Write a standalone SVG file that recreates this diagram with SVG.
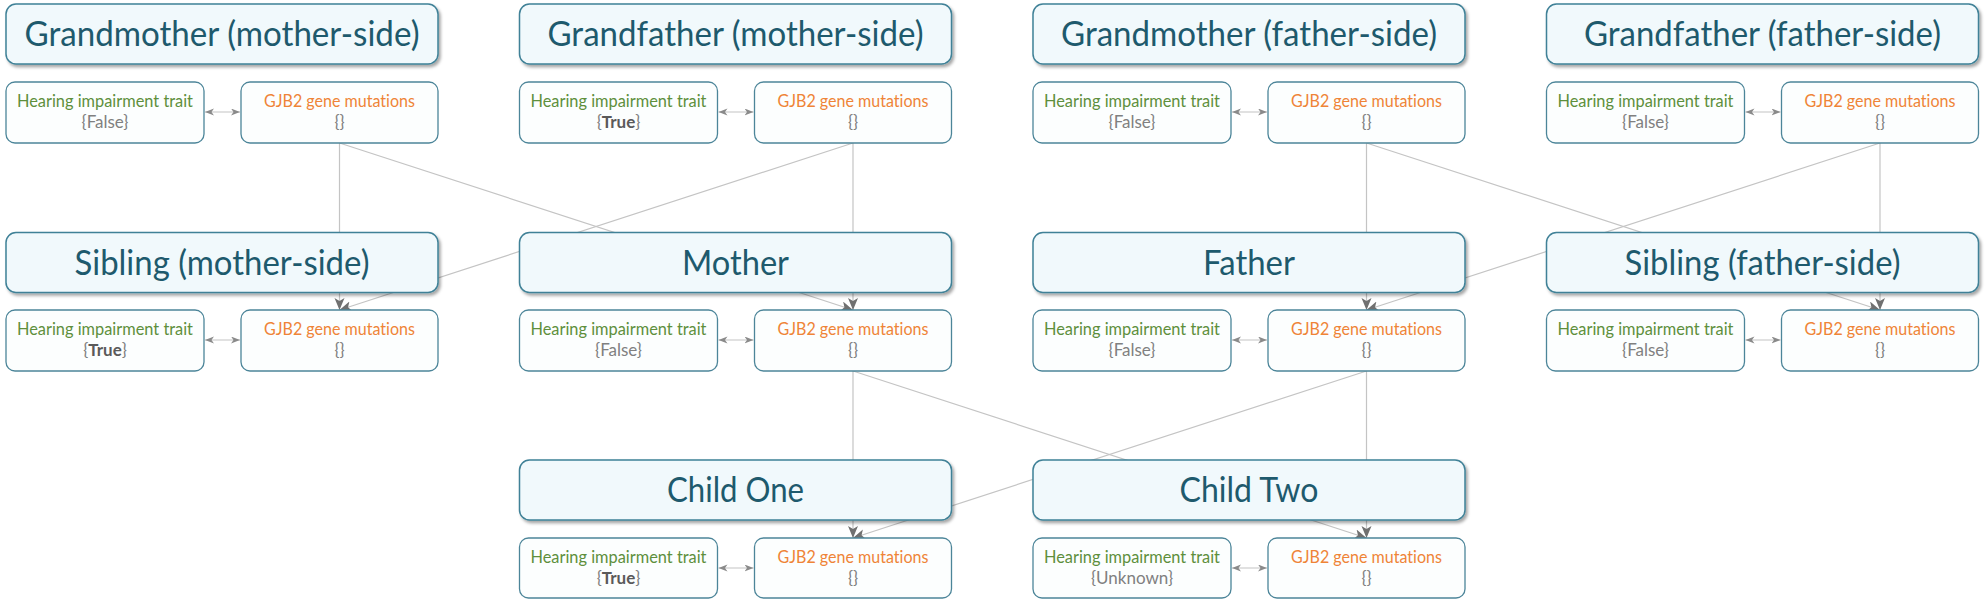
<svg xmlns="http://www.w3.org/2000/svg" width="1986" height="600" viewBox="0 0 1986 600">
<defs>
<filter id="sh" x="-5%" y="-20%" width="110%" height="150%">
<feDropShadow dx="2" dy="2.5" stdDeviation="1.5" flood-color="#000" flood-opacity="0.35"/>
</filter>
<marker id="ah" markerUnits="userSpaceOnUse" markerWidth="14" markerHeight="12" refX="12" refY="5" orient="auto">
<path d="M0,0 L12,5 L0,10 L3,5 z" fill="#707070"/>
</marker>
<marker id="sa" markerUnits="userSpaceOnUse" markerWidth="10" markerHeight="8" refX="9" refY="3.5" orient="auto-start-reverse">
<path d="M0,0 L9,3.5 L0,7 L2.5,3.5 z" fill="#8a8a8a"/>
</marker>
</defs>
<style>
text{font-variant-ligatures:none}
.big{fill:#f1f9fc;stroke:#3f8197;stroke-width:1.5;filter:url(#sh)}
.sm{fill:#fcfefe;stroke:#4c8599;stroke-width:1.3}
.title{font-family:Lato,"Liberation Sans",sans-serif;font-size:34px;fill:#1e5a6d;text-anchor:middle}
.lbl{font-family:Lato,"Liberation Sans",sans-serif;font-size:17px;text-anchor:middle}
.tr{fill:#5e8f3c}
.gj{fill:#ef8437}
.val{fill:#808080}
.b{font-weight:bold;fill:#5a5a5a}
.con{stroke:#c4c4c4;stroke-width:1.2;fill:none;marker-end:url(#ah)}
.dbl{stroke:#c4c4c4;stroke-width:1.2;fill:none;marker-start:url(#sa);marker-end:url(#sa)}
</style>

<g id="connectors">
<line class="con" x1="339.5" y1="143" x2="339.5" y2="310"/>
<line class="con" x1="339.5" y1="143" x2="853" y2="310"/>
<line class="con" x1="853" y1="143" x2="853" y2="310"/>
<line class="con" x1="853" y1="143" x2="339.5" y2="310"/>
<line class="con" x1="1366.5" y1="143" x2="1366.5" y2="310"/>
<line class="con" x1="1366.5" y1="143" x2="1880" y2="310"/>
<line class="con" x1="1880" y1="143" x2="1880" y2="310"/>
<line class="con" x1="1880" y1="143" x2="1366.5" y2="310"/>
<line class="con" x1="853" y1="371" x2="853" y2="538"/>
<line class="con" x1="853" y1="371" x2="1366.5" y2="538"/>
<line class="con" x1="1366.5" y1="371" x2="1366.5" y2="538"/>
<line class="con" x1="1366.5" y1="371" x2="853" y2="538"/>
<line class="dbl" x1="205" y1="112" x2="240" y2="112"/>
<line class="dbl" x1="718.5" y1="112" x2="753.5" y2="112"/>
<line class="dbl" x1="1232" y1="112" x2="1267" y2="112"/>
<line class="dbl" x1="1745.5" y1="112" x2="1780.5" y2="112"/>
<line class="dbl" x1="205" y1="340" x2="240" y2="340"/>
<line class="dbl" x1="718.5" y1="340" x2="753.5" y2="340"/>
<line class="dbl" x1="1232" y1="340" x2="1267" y2="340"/>
<line class="dbl" x1="1745.5" y1="340" x2="1780.5" y2="340"/>
<line class="dbl" x1="718.5" y1="568" x2="753.5" y2="568"/>
<line class="dbl" x1="1232" y1="568" x2="1267" y2="568"/>
</g>

<g id="grandmother-mother-side">
<rect class="big" x="6" y="4" width="432" height="60" rx="10"/>
<text class="title" x="222" y="46" textLength="395" lengthAdjust="spacingAndGlyphs">Grandmother (mother-side)</text>
<rect class="sm" x="6" y="82" width="198" height="61" rx="9"/>
<text class="lbl tr" x="105" y="107" textLength="176" lengthAdjust="spacingAndGlyphs">Hearing impairment trait</text>
<text class="lbl val" x="105" y="128">{False}</text>
<rect class="sm" x="241" y="82" width="197" height="61" rx="9"/>
<text class="lbl gj" x="339.5" y="107" textLength="151" lengthAdjust="spacingAndGlyphs">GJB2 gene mutations</text>
<text class="lbl val" x="339.5" y="128">{}</text>
</g>

<g id="grandfather-mother-side">
<rect class="big" x="519.5" y="4" width="432" height="60" rx="10"/>
<text class="title" x="735.5" y="46" textLength="376" lengthAdjust="spacingAndGlyphs">Grandfather (mother-side)</text>
<rect class="sm" x="519.5" y="82" width="198" height="61" rx="9"/>
<text class="lbl tr" x="618.5" y="107" textLength="176" lengthAdjust="spacingAndGlyphs">Hearing impairment trait</text>
<text class="lbl val" x="618.5" y="128">{<tspan class="b">True</tspan>}</text>
<rect class="sm" x="754.5" y="82" width="197" height="61" rx="9"/>
<text class="lbl gj" x="853" y="107" textLength="151" lengthAdjust="spacingAndGlyphs">GJB2 gene mutations</text>
<text class="lbl val" x="853" y="128">{}</text>
</g>

<g id="grandmother-father-side">
<rect class="big" x="1033" y="4" width="432" height="60" rx="10"/>
<text class="title" x="1249" y="46" textLength="376" lengthAdjust="spacingAndGlyphs">Grandmother (father-side)</text>
<rect class="sm" x="1033" y="82" width="198" height="61" rx="9"/>
<text class="lbl tr" x="1132" y="107" textLength="176" lengthAdjust="spacingAndGlyphs">Hearing impairment trait</text>
<text class="lbl val" x="1132" y="128">{False}</text>
<rect class="sm" x="1268" y="82" width="197" height="61" rx="9"/>
<text class="lbl gj" x="1366.5" y="107" textLength="151" lengthAdjust="spacingAndGlyphs">GJB2 gene mutations</text>
<text class="lbl val" x="1366.5" y="128">{}</text>
</g>

<g id="grandfather-father-side">
<rect class="big" x="1546.5" y="4" width="432" height="60" rx="10"/>
<text class="title" x="1762.5" y="46" textLength="357" lengthAdjust="spacingAndGlyphs">Grandfather (father-side)</text>
<rect class="sm" x="1546.5" y="82" width="198" height="61" rx="9"/>
<text class="lbl tr" x="1645.5" y="107" textLength="176" lengthAdjust="spacingAndGlyphs">Hearing impairment trait</text>
<text class="lbl val" x="1645.5" y="128">{False}</text>
<rect class="sm" x="1781.5" y="82" width="197" height="61" rx="9"/>
<text class="lbl gj" x="1880" y="107" textLength="151" lengthAdjust="spacingAndGlyphs">GJB2 gene mutations</text>
<text class="lbl val" x="1880" y="128">{}</text>
</g>

<g id="sibling-mother-side">
<rect class="big" x="6" y="232.5" width="432" height="60" rx="10"/>
<text class="title" x="222" y="274.5" textLength="295" lengthAdjust="spacingAndGlyphs">Sibling (mother-side)</text>
<rect class="sm" x="6" y="310" width="198" height="61" rx="9"/>
<text class="lbl tr" x="105" y="335" textLength="176" lengthAdjust="spacingAndGlyphs">Hearing impairment trait</text>
<text class="lbl val" x="105" y="356">{<tspan class="b">True</tspan>}</text>
<rect class="sm" x="241" y="310" width="197" height="61" rx="9"/>
<text class="lbl gj" x="339.5" y="335" textLength="151" lengthAdjust="spacingAndGlyphs">GJB2 gene mutations</text>
<text class="lbl val" x="339.5" y="356">{}</text>
</g>

<g id="mother">
<rect class="big" x="519.5" y="232.5" width="432" height="60" rx="10"/>
<text class="title" x="735.5" y="274.5" textLength="107" lengthAdjust="spacingAndGlyphs">Mother</text>
<rect class="sm" x="519.5" y="310" width="198" height="61" rx="9"/>
<text class="lbl tr" x="618.5" y="335" textLength="176" lengthAdjust="spacingAndGlyphs">Hearing impairment trait</text>
<text class="lbl val" x="618.5" y="356">{False}</text>
<rect class="sm" x="754.5" y="310" width="197" height="61" rx="9"/>
<text class="lbl gj" x="853" y="335" textLength="151" lengthAdjust="spacingAndGlyphs">GJB2 gene mutations</text>
<text class="lbl val" x="853" y="356">{}</text>
</g>

<g id="father">
<rect class="big" x="1033" y="232.5" width="432" height="60" rx="10"/>
<text class="title" x="1249" y="274.5" textLength="92" lengthAdjust="spacingAndGlyphs">Father</text>
<rect class="sm" x="1033" y="310" width="198" height="61" rx="9"/>
<text class="lbl tr" x="1132" y="335" textLength="176" lengthAdjust="spacingAndGlyphs">Hearing impairment trait</text>
<text class="lbl val" x="1132" y="356">{False}</text>
<rect class="sm" x="1268" y="310" width="197" height="61" rx="9"/>
<text class="lbl gj" x="1366.5" y="335" textLength="151" lengthAdjust="spacingAndGlyphs">GJB2 gene mutations</text>
<text class="lbl val" x="1366.5" y="356">{}</text>
</g>

<g id="sibling-father-side">
<rect class="big" x="1546.5" y="232.5" width="432" height="60" rx="10"/>
<text class="title" x="1762.5" y="274.5" textLength="276" lengthAdjust="spacingAndGlyphs">Sibling (father-side)</text>
<rect class="sm" x="1546.5" y="310" width="198" height="61" rx="9"/>
<text class="lbl tr" x="1645.5" y="335" textLength="176" lengthAdjust="spacingAndGlyphs">Hearing impairment trait</text>
<text class="lbl val" x="1645.5" y="356">{False}</text>
<rect class="sm" x="1781.5" y="310" width="197" height="61" rx="9"/>
<text class="lbl gj" x="1880" y="335" textLength="151" lengthAdjust="spacingAndGlyphs">GJB2 gene mutations</text>
<text class="lbl val" x="1880" y="356">{}</text>
</g>

<g id="child-one">
<rect class="big" x="519.5" y="460" width="432" height="60" rx="10"/>
<text class="title" x="735.5" y="502" textLength="137" lengthAdjust="spacingAndGlyphs">Child One</text>
<rect class="sm" x="519.5" y="538" width="198" height="60" rx="9"/>
<text class="lbl tr" x="618.5" y="563" textLength="176" lengthAdjust="spacingAndGlyphs">Hearing impairment trait</text>
<text class="lbl val" x="618.5" y="584">{<tspan class="b">True</tspan>}</text>
<rect class="sm" x="754.5" y="538" width="197" height="60" rx="9"/>
<text class="lbl gj" x="853" y="563" textLength="151" lengthAdjust="spacingAndGlyphs">GJB2 gene mutations</text>
<text class="lbl val" x="853" y="584">{}</text>
</g>

<g id="child-two">
<rect class="big" x="1033" y="460" width="432" height="60" rx="10"/>
<text class="title" x="1249" y="502" textLength="139" lengthAdjust="spacingAndGlyphs">Child Two</text>
<rect class="sm" x="1033" y="538" width="198" height="60" rx="9"/>
<text class="lbl tr" x="1132" y="563" textLength="176" lengthAdjust="spacingAndGlyphs">Hearing impairment trait</text>
<text class="lbl val" x="1132" y="584">{Unknown}</text>
<rect class="sm" x="1268" y="538" width="197" height="60" rx="9"/>
<text class="lbl gj" x="1366.5" y="563" textLength="151" lengthAdjust="spacingAndGlyphs">GJB2 gene mutations</text>
<text class="lbl val" x="1366.5" y="584">{}</text>
</g>
</svg>
